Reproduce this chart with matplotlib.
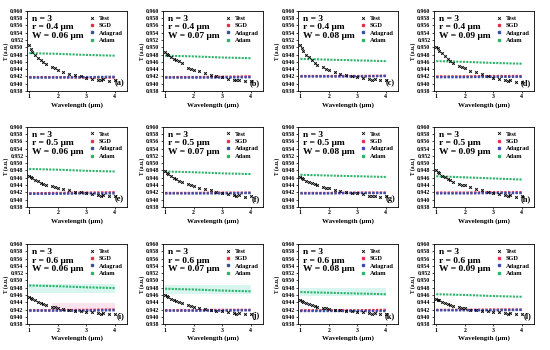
import matplotlib
matplotlib.use('Agg')
import matplotlib.pyplot as plt
from matplotlib.lines import Line2D

# panel parameters
panel_tags = ['(a)', '(b)', '(c)', '(d)', '(e)', '(f)', '(g)', '(h)', '(i)', '(j)', '(k)', '(l)']
r_vals = ['0.4', '0.4', '0.4', '0.4', '0.5', '0.5', '0.5', '0.5', '0.6', '0.6', '0.6', '0.6']
w_vals = ['0.06', '0.07', '0.08', '0.09'] * 3

# wavelengths (um)
wl_test = [1.0, 1.05, 1.1, 1.2, 1.3, 1.4, 1.5, 1.6, 1.8, 1.9, 2.0, 2.2, 2.4, 2.6, 2.8,
           3.0, 3.2, 3.4, 3.5, 3.6, 3.8, 4.0]
wl_pred = [1.0, 2.0, 3.0, 4.0]

test_a = [0.9505, 0.9496, 0.9488, 0.9479, 0.9471, 0.9465, 0.9459, 0.9454, 0.9446, 0.9442, 0.9439,
          0.9433, 0.9428, 0.9424, 0.9420, 0.9417, 0.9414, 0.9411, 0.9409, 0.9412, 0.9408, 0.9410]
test_b = [0.9488, 0.9482, 0.9478, 0.9472, 0.9468, 0.9465, 0.9462, 0.9458, 0.9443, 0.9440, 0.9438,
          0.9434, 0.9429, 0.9425, 0.9421, 0.9418, 0.9414, 0.9411, 0.9409, 0.9411, 0.9407, 0.9408]
test_c = [0.9505, 0.9497, 0.9490, 0.9480, 0.9472, 0.9465, 0.9458, 0.9452, 0.9445, 0.9441, 0.9438,
          0.9432, 0.9428, 0.9424, 0.9421, 0.9418, 0.9415, 0.9413, 0.9411, 0.9413, 0.9410, 0.9411]
test_d = [0.9502, 0.9498, 0.9490, 0.9484, 0.9476, 0.9468, 0.9462, 0.9456, 0.9448, 0.9445, 0.9442,
          0.9436, 0.9431, 0.9426, 0.9421, 0.9417, 0.9413, 0.9410, 0.9408, 0.9410, 0.9406, 0.9405]
test_e = [0.9466, 0.9462, 0.9459, 0.9454, 0.9450, 0.9446, 0.9443, 0.9440, 0.9436, 0.9434, 0.9432,
          0.9428, 0.9425, 0.9422, 0.9420, 0.9418, 0.9415, 0.9412, 0.9410, 0.9412, 0.9409, 0.9410]
test_f = [0.9478, 0.9474, 0.9470, 0.9465, 0.9460, 0.9456, 0.9452, 0.9449, 0.9443, 0.9440, 0.9438,
          0.9433, 0.9429, 0.9425, 0.9421, 0.9418, 0.9415, 0.9412, 0.9410, 0.9412, 0.9408, 0.9409]
test_g = [0.9463, 0.9460, 0.9457, 0.9452, 0.9448, 0.9445, 0.9442, 0.9439, 0.9435, 0.9433, 0.9431,
          0.9427, 0.9424, 0.9421, 0.9419, 0.9417, 0.9414, 0.9411, 0.9409, 0.9411, 0.9408, 0.9409]
test_h = [0.9480, 0.9476, 0.9472, 0.9466, 0.9461, 0.9457, 0.9453, 0.9449, 0.9444, 0.9441, 0.9439,
          0.9434, 0.9430, 0.9426, 0.9422, 0.9419, 0.9415, 0.9412, 0.9410, 0.9412, 0.9408, 0.9409]
test_i = [0.9455, 0.9452, 0.9450, 0.9446, 0.9442, 0.9439, 0.9436, 0.9433, 0.9428, 0.9426, 0.9424,
          0.9421, 0.9419, 0.9417, 0.9415, 0.9414, 0.9412, 0.9410, 0.9409, 0.9411, 0.9407, 0.9408]
test_j = [0.9460, 0.9457, 0.9454, 0.9450, 0.9446, 0.9443, 0.9440, 0.9437, 0.9432, 0.9430, 0.9428,
          0.9424, 0.9421, 0.9419, 0.9417, 0.9415, 0.9413, 0.9411, 0.9409, 0.9411, 0.9408, 0.9408]
test_k = [0.9446, 0.9443, 0.9441, 0.9437, 0.9434, 0.9432, 0.9430, 0.9428, 0.9425, 0.9423, 0.9422,
          0.9420, 0.9418, 0.9417, 0.9416, 0.9414, 0.9412, 0.9410, 0.9408, 0.9410, 0.9407, 0.9407]
test_l = [0.9450, 0.9447, 0.9445, 0.9441, 0.9438, 0.9436, 0.9433, 0.9431, 0.9427, 0.9425, 0.9423,
          0.9420, 0.9418, 0.9416, 0.9415, 0.9414, 0.9412, 0.9410, 0.9408, 0.9410, 0.9407, 0.9407]

sgd_a = [0.9418, 0.9418, 0.9417, 0.9417]
sgd_b = [0.9418, 0.9418, 0.9419, 0.9420]
sgd_c = [0.9421, 0.9421, 0.9421, 0.9422]
sgd_d = [0.9420, 0.9420, 0.9421, 0.9421]
sgd_e = [0.9417, 0.9418, 0.9419, 0.9420]
sgd_f = [0.9418, 0.9418, 0.9419, 0.9419]
sgd_g = [0.9418, 0.9418, 0.9419, 0.9419]
sgd_h = [0.9419, 0.9419, 0.9420, 0.9420]
sgd_i = [0.9418, 0.9418, 0.9419, 0.9420]
sgd_j = [0.9418, 0.9418, 0.9419, 0.9419]
sgd_k = [0.9418, 0.9418, 0.9418, 0.9419]
sgd_l = [0.9419, 0.9419, 0.9420, 0.9420]

adagrad_a = [0.9417, 0.9417, 0.9418, 0.9419]
adagrad_b = [0.9417, 0.9417, 0.9417, 0.9418]
adagrad_c = [0.9420, 0.9420, 0.9420, 0.9421]
adagrad_d = [0.9418, 0.9418, 0.9419, 0.9419]
adagrad_e = [0.9416, 0.9416, 0.9417, 0.9417]
adagrad_f = [0.9417, 0.9417, 0.9417, 0.9418]
adagrad_g = [0.9417, 0.9417, 0.9418, 0.9418]
adagrad_h = [0.9417, 0.9417, 0.9418, 0.9418]
adagrad_i = [0.9417, 0.9417, 0.9417, 0.9418]
adagrad_j = [0.9417, 0.9417, 0.9417, 0.9418]
adagrad_k = [0.9417, 0.9417, 0.9417, 0.9417]
adagrad_l = [0.9418, 0.9418, 0.9418, 0.9419]

adam_a = [0.9484, 0.9482, 0.9479, 0.9477]
adam_b = [0.9477, 0.9475, 0.9472, 0.9470]
adam_c = [0.9468, 0.9466, 0.9464, 0.9462]
adam_d = [0.9462, 0.9460, 0.9457, 0.9455]
adam_e = [0.9484, 0.9482, 0.9479, 0.9477]
adam_f = [0.9477, 0.9475, 0.9472, 0.9470]
adam_g = [0.9468, 0.9466, 0.9464, 0.9462]
adam_h = [0.9464, 0.9461, 0.9458, 0.9455]
adam_i = [0.9486, 0.9484, 0.9481, 0.9479]
adam_j = [0.9477, 0.9475, 0.9472, 0.9470]
adam_k = [0.9468, 0.9466, 0.9464, 0.9462]
adam_l = [0.9462, 0.9460, 0.9457, 0.9455]

tests = [test_a, test_b, test_c, test_d, test_e, test_f, test_g, test_h, test_i, test_j, test_k, test_l]
sgds = [sgd_a, sgd_b, sgd_c, sgd_d, sgd_e, sgd_f, sgd_g, sgd_h, sgd_i, sgd_j, sgd_k, sgd_l]
adagrads = [adagrad_a, adagrad_b, adagrad_c, adagrad_d, adagrad_e, adagrad_f,
            adagrad_g, adagrad_h, adagrad_i, adagrad_j, adagrad_k, adagrad_l]
adams = [adam_a, adam_b, adam_c, adam_d, adam_e, adam_f, adam_g, adam_h, adam_i, adam_j, adam_k, adam_l]

# faint bands seen in bottom row: (panel index, x0, x1, y0, y1, colour)
bands = [(8, 1.0, 4.0, 0.9466, 0.9490, '#d8f5f0'),
         (8, 1.8, 4.0, 0.9420, 0.9438, '#fbe3ee'),
         (9, 1.0, 4.0, 0.9462, 0.9488, '#d8f5f0'),
         (10, 1.0, 4.0, 0.9458, 0.9478, '#d8f5f0')]

c_test, c_sgd, c_ada, c_adam = 'black', '#e8304f', '#3b4fa8', '#2fb36b'

plt.rcParams['font.family'] = ['Liberation Serif', 'DejaVu Serif']
plt.rcParams['font.weight'] = 'bold'

fig = plt.figure(figsize=(5.5, 3.5), dpi=100)
lefts = [0.049, 0.296, 0.542, 0.789]
bottoms = [0.74, 0.409, 0.074]
w, h = 0.182, 0.229

for k in range(12):
    row, col = divmod(k, 4)
    ax = fig.add_axes([lefts[col], bottoms[row], w, h])
    for (pi, x0, x1, y0, y1, bc) in bands:
        if pi == k:
            ax.fill_between([x0, x1], y0, y1, color=bc, lw=0, zorder=0)
    ax.plot(wl_pred, sgds[k], color=c_sgd, ls=(0, (1, 0.6)), lw=1.7, zorder=2)
    ax.plot(wl_pred, adagrads[k], color=c_ada, ls=(0, (1, 0.6)), lw=1.7, zorder=2)
    ax.plot(wl_pred, adams[k], color=c_adam, ls=(0, (1, 0.6)), lw=1.5, zorder=2)
    ax.scatter(wl_test, tests[k], s=3.5, marker='x', color=c_test, lw=0.7, zorder=3)

    ax.set_xlim(0.92, 4.43)
    ax.set_ylim(0.938, 0.960)
    ax.set_xticks([1, 2, 3, 4])
    ax.set_yticks([0.938 + 0.002 * i for i in range(12)])
    ax.set_yticklabels(['%.3f' % (0.938 + 0.002 * i) for i in range(12)])
    ax.tick_params(labelsize=4.2, length=1.5, width=0.5, pad=1)
    for s in ax.spines.values():
        s.set_linewidth(0.6)
    ax.set_xlabel('Wavelength (μm)', fontsize=5, fontweight='bold', labelpad=2)
    ax.set_ylabel('T (a.u.)', fontsize=4, fontweight='bold', labelpad=1)

    ax.text(0.05, 0.95, 'n = 3\nr = %s μm\nW = %s μm' % (r_vals[k], w_vals[k]),
            transform=ax.transAxes, fontsize=6.8, fontweight='bold', va='top', ha='left',
            linespacing=1.1)
    ax.text(0.97, 0.05, panel_tags[k], transform=ax.transAxes, fontsize=6,
            fontweight='bold', ha='right', va='bottom')

    handles = [Line2D([], [], marker='x', ls='', color=c_test, ms=2, mew=0.6),
               Line2D([], [], marker='s', ls='', color=c_sgd, ms=2),
               Line2D([], [], marker='s', ls='', color=c_ada, ms=2),
               Line2D([], [], marker='s', ls='', color=c_adam, ms=2)]
    ax.legend(handles, ['Test', 'SGD', 'Adagrad', 'Adam'], loc='upper right', frameon=False,
              fontsize=4.6, handlelength=1, handletextpad=0.6, labelspacing=0.3,
              borderaxespad=0.3)

fig.savefig('out.png', dpi=100)
